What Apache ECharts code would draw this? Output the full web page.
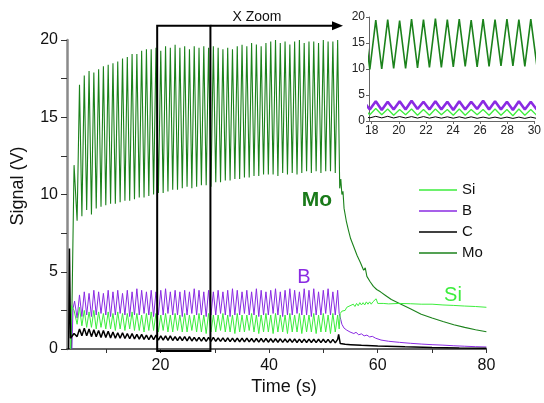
<!DOCTYPE html>
<html><head><meta charset="utf-8">
<script src="https://cdn.jsdelivr.net/npm/echarts@6/dist/echarts.min.js"></script>
<style>html,body{margin:0;padding:0;background:#fff}#c{width:544px;height:403px}</style>
</head><body><div id="c"></div>
<script>
// ---------- data ----------
const seriesNames = ['Si', 'B', 'C', 'Mo'];
const peakTime = [5.10,5.98,6.86,7.74,8.62,9.50,10.38,11.26,12.14,13.02,13.90,14.78,15.66,16.54,17.42,18.30,19.18,20.06,20.94,21.82,22.70,23.58,24.46,25.34,26.22,27.10,27.98,28.86,29.74,30.62,31.50,32.38,33.26,34.14,35.02,35.90,36.78,37.66,38.54,39.42,40.30,41.18,42.06,42.94,43.82,44.70,45.58,46.46,47.34,48.22,49.10,49.98,50.86,51.74,52.62];
const troughTime = [4.66,5.54,6.42,7.30,8.18,9.06,9.94,10.82,11.70,12.58,13.46,14.34,15.22,16.10,16.98,17.86,18.74,19.62,20.50,21.38,22.26,23.14,24.02,24.90,25.78,26.66,27.54,28.42,29.30,30.18,31.06,31.94,32.82,33.70,34.58,35.46,36.34,37.22,38.10,38.98,39.86,40.74,41.62,42.50,43.38,44.26,45.14,46.02,46.90,47.78,48.66,49.54,50.42,51.30,52.18];

const moPeak = [17.1,17.7,18.0,17.9,18.1,18.3,18.4,18.5,18.6,18.8,18.9,19.1,19.1,19.3,19.4,19.4,19.5,19.3,19.6,19.5,19.7,19.5,19.6,19.4,19.6,19.5,19.6,19.5,19.6,19.5,19.4,19.5,19.4,19.6,19.7,19.6,19.8,19.7,19.6,19.8,19.9,20.0,19.8,19.9,19.7,19.9,20.0,19.8,19.9,19.9,19.8,20.0,19.9,19.9,20.0];
const moTrough = [8.3,8.6,9.0,8.7,9.1,9.2,9.3,9.4,9.4,9.5,9.6,9.6,9.7,9.8,9.8,9.9,10.0,10.1,10.1,10.2,10.3,10.3,10.4,10.5,10.4,10.5,10.6,10.6,10.5,10.8,10.8,10.9,10.9,11.0,11.0,11.1,11.1,11.2,11.2,11.3,11.3,11.3,11.2,11.4,11.3,11.4,11.3,11.4,11.5,11.4,11.5,11.4,11.5,11.5,11.4];
const moStart = [[3.6,0],[4.1,11.9]];
const moTail = [[53.0,10.4],[53.2,11.0],[53.4,10.0],[53.6,10.2],[53.8,9.1],[54.0,9.2],[54.2,8.3],[54.4,8.4],[54.6,7.7],[54.8,7.8],[55.0,7.15],[55.3,7.25],[55.6,6.6],[55.9,6.7],[56.2,6.05],[56.5,6.15],[56.8,5.6],[57.1,5.7],[57.4,5.1],[57.7,5.25],[58.0,4.7],[58.3,4.8],[58.6,4.35],[58.9,4.45],[59.2,4.05],[59.5,4.15],[59.8,3.85],[60.5,3.7],[61.5,3.45],[62.5,3.2],[64,2.95],[66,2.6],[68,2.25],[70,2.0],[72,1.78],[74,1.57],[76,1.4],[78,1.25],[80,1.12]];

const bPeak = [3.5,3.7,3.6,3.8,3.7,3.6,3.8,3.7,3.8,3.6,3.8,3.7,3.9,3.8,3.7,3.8,3.7,3.8,3.9,3.7,3.8,3.7,3.8,3.7,3.9,3.8,3.7,3.8,3.7,3.8,3.7,3.8,3.9,3.8,3.7,3.8,3.7,3.9,3.8,3.7,3.8,3.9,3.7,3.8,3.9,3.8,3.7,3.9,3.8,3.9,3.7,3.8,3.9,3.7,3.8];
const bTrough = [2.0,2.1,2.2,2.1,2.2,2.3,2.2,2.1,2.2,2.3,2.2,2.1,2.2,2.2,2.3,2.2,2.1,2.2,2.2,2.3,2.2,2.2,2.1,2.2,2.3,2.2,2.2,2.1,2.2,2.2,2.3,2.2,2.1,2.2,2.2,2.3,2.2,2.2,2.1,2.2,2.2,2.3,2.2,2.1,2.2,2.2,2.3,2.2,2.2,2.1,2.2,2.2,2.3,2.2,2.2];
const bStart = [[3.7,0],[3.9,2.6],[4.2,3.1]];
const bTail = [[52.9,2.3],[53.2,1.9],[53.4,1.6],[53.6,1.5],[53.8,1.35],[54.0,1.4],[54.3,1.22],[54.6,1.3],[54.9,1.1],[55.2,1.18],[55.6,1.0],[56.0,1.08],[56.5,0.92],[57.0,0.98],[57.5,0.85],[58.0,0.9],[58.5,0.78],[59.0,0.82],[59.6,0.7],[60.6,0.58],[62,0.5],[64,0.43],[66,0.37],[68,0.32],[70,0.28],[72,0.25],[74,0.21],[76,0.18],[78,0.15],[80,0.13]];

const siPeak = [2.7,2.5,2.4,2.5,2.4,2.3,2.4,2.3,2.4,2.3,2.3,2.4,2.3,2.2,2.3,2.4,2.3,2.2,2.3,2.2,2.3,2.2,2.3,2.2,2.2,2.3,2.2,2.3,2.2,2.2,2.3,2.2,2.2,2.3,2.2,2.2,2.3,2.2,2.2,2.3,2.2,2.3,2.2,2.2,2.3,2.2,2.3,2.2,2.2,2.3,2.2,2.3,2.2,2.3,2.2];
const siTrough = [1.6,1.5,1.4,1.4,1.3,1.4,1.3,1.3,1.2,1.3,1.2,1.3,1.2,1.2,1.1,1.2,1.2,1.1,1.2,1.1,1.1,1.2,1.1,1.1,1.2,1.1,1.1,1.0,1.1,1.1,1.2,1.1,1.1,1.0,1.1,1.1,1.2,1.1,1.0,1.1,1.1,1.0,1.1,1.1,1.0,1.1,1.1,1.0,1.1,1.1,1.0,1.1,1.1,1.0,1.1];
const siStart = [[3.45,0],[3.6,2.8],[4.1,2.5]];
const siTail = [[52.9,1.3],[53.1,2.3],[53.4,2.45],[53.7,2.55],[54.0,2.5],[54.3,2.7],[54.6,2.6],[54.9,2.8],[55.2,2.7],[55.5,2.9],[55.8,2.75],[56.1,2.95],[56.4,2.8],[56.7,3.0],[57.0,2.85],[57.3,3.0],[57.6,2.85],[57.9,3.05],[58.2,2.9],[58.5,3.05],[58.8,2.9],[59.1,3.05],[59.4,2.95],[59.7,3.25],[60.0,2.95],[61,2.95],[62,2.92],[64,2.95],[66,2.93],[68,2.9],[70,2.9],[72,2.85],[74,2.82],[76,2.78],[78,2.75],[80,2.7]];

const cPeak = [1.3,1.35,1.3,1.25,1.2,1.2,1.15,1.1,1.05,1.05,1.0,1.0,0.95,0.95,0.9,0.9,0.9,0.85,0.85,0.85,0.8,0.8,0.8,0.8,0.75,0.75,0.75,0.75,0.75,0.72,0.72,0.72,0.7,0.7,0.7,0.7,0.68,0.68,0.68,0.68,0.66,0.66,0.66,0.65,0.65,0.65,0.64,0.64,0.64,0.63,0.63,0.63,0.62,0.62,0.62];
const cTrough = [0.8,0.85,0.85,0.8,0.8,0.75,0.75,0.72,0.7,0.7,0.68,0.66,0.65,0.64,0.62,0.6,0.6,0.58,0.58,0.56,0.55,0.55,0.54,0.53,0.52,0.52,0.51,0.5,0.5,0.5,0.49,0.48,0.48,0.47,0.47,0.46,0.46,0.45,0.45,0.45,0.44,0.44,0.44,0.43,0.43,0.43,0.42,0.42,0.42,0.42,0.41,0.41,0.41,0.4,0.4];
const cStart = [[3.1,0],[3.25,6.5],[3.45,0.7],[4.1,1.0]];
const cTail = [[52.8,0.95],[53.1,0.35],[54,0.3],[55,0.28],[57,0.24],[60,0.2],[65,0.14],[70,0.1],[75,0.07],[80,0.05]];

const xLabelValues = [20, 40, 60, 80];
const xTickValues = [10, 20, 30, 40, 50, 60, 70, 80];
const yLabelValues = [0, 5, 10, 15, 20];
const yTickValues = [0, 2.5, 5, 7.5, 10, 12.5, 15, 17.5, 20];
const insetXLabelValues = [18, 20, 22, 24, 26, 28, 30];
const insetYLabelValues = [0, 5, 10, 15, 20];
const zoomRange = [19.4, 29.2];

// ---------- build ----------
function build(start, troughs, peaks, tail) {
  const out = start.slice();
  for (let i = 0; i < peakTime.length; i++) {
    out.push([troughTime[i], troughs[i]]);
    out.push([peakTime[i], peaks[i]]);
  }
  return out.concat(tail);
}
const dataMap = {
  Mo: build(moStart, moTrough, moPeak, moTail),
  B: build(bStart, bTrough, bPeak, bTail),
  Si: build(siStart, siTrough, siPeak, siTail),
  C: build(cStart, cTrough, cPeak, cTail)
};
const colors = { Mo: '#1b821b', B: '#8a2be2', Si: '#3ded3d', C: '#000000' };
const mainWidth = { Mo: 1.1, B: 1, Si: 1, C: 1.5 };
const insetWidth = { Mo: 1.6, B: 2.6, Si: 1.3, C: 1 };
const drawOrder = ['Mo', 'B', 'Si', 'C'];
const FF = '"Liberation Sans", Arial, sans-serif';

const series = [];
drawOrder.forEach(n => {
  series.push({ name: n, type: 'line', xAxisIndex: 0, yAxisIndex: 0, data: dataMap[n],
    showSymbol: false, symbol: 'none', animation: false,
    lineStyle: { color: colors[n], width: mainWidth[n] }, itemStyle: { color: colors[n] } });
});
drawOrder.forEach(n => {
  series.push({ name: n, type: 'line', xAxisIndex: 1, yAxisIndex: 1, data: dataMap[n],
    showSymbol: false, symbol: 'none', animation: false,
    lineStyle: { color: colors[n], width: insetWidth[n] }, itemStyle: { color: colors[n] } });
});

const chart = echarts.init(document.getElementById('c'), null, { renderer: 'canvas' });
chart.setOption({
  animation: false,
  backgroundColor: '#fff',
  grid: [
    { left: 67, top: 40, width: 419.4, height: 309 },
    { left: 369, top: 17, width: 168, height: 104 }
  ],
  xAxis: [
    { type: 'value', gridIndex: 0, min: 2.8, max: 80,
      axisLine: { lineStyle: { color: '#333', width: 1.5 } },
      axisTick: { customValues: xTickValues, length: 4, lineStyle: { color: '#333' } },
      axisLabel: { customValues: xLabelValues, fontSize: 16, color: '#111', margin: 9, fontFamily: FF },
      splitLine: { show: false } },
    { type: 'value', gridIndex: 1, min: 17.8, max: 30,
      axisLine: { lineStyle: { color: '#666', width: 1 } },
      axisTick: { customValues: insetXLabelValues, length: 3, lineStyle: { color: '#666' } },
      axisLabel: { customValues: insetXLabelValues, fontSize: 12, color: '#222', margin: 4, fontFamily: FF },
      splitLine: { show: false } }
  ],
  yAxis: [
    { type: 'value', gridIndex: 0, min: 0, max: 20,
      axisLine: { show: true, lineStyle: { color: '#8a8a8a', width: 2.5 } },
      axisTick: { show: true, customValues: yTickValues, length: 6, lineStyle: { color: '#333' } },
      axisLabel: { customValues: yLabelValues, fontSize: 16, color: '#111', margin: 9, fontFamily: FF },
      splitLine: { show: false } },
    { type: 'value', gridIndex: 1, min: 0, max: 20,
      axisLine: { show: true, lineStyle: { color: '#666', width: 1 } },
      axisTick: { show: true, customValues: insetYLabelValues, length: 3, lineStyle: { color: '#666' } },
      axisLabel: { customValues: insetYLabelValues, fontSize: 12, color: '#222', margin: 4, fontFamily: FF },
      splitLine: { show: false } }
  ],
  legend: {
    data: seriesNames, orient: 'vertical', left: 419, top: 179.5, padding: 0,
    icon: 'rect', itemWidth: 38, itemHeight: 1.5, itemGap: 0, selectedMode: false,
    textStyle: { fontSize: 15, lineHeight: 21, color: '#111', fontFamily: FF }
  },
  series: series
});

const p0 = chart.convertToPixel({ xAxisIndex: 0, yAxisIndex: 0 }, [zoomRange[0], 0]);
const p1 = chart.convertToPixel({ xAxisIndex: 0, yAxisIndex: 0 }, [zoomRange[1], 0]);
const boxTop = 25.7, boxBottom = 351, arrowTip = 343;
chart.setOption({
  graphic: [
    { type: 'rect', shape: { x: p0[0], y: boxTop, width: p1[0] - p0[0], height: boxBottom - boxTop },
      style: { fill: 'none', stroke: '#000', lineWidth: 2 }, z: 100 },
    { type: 'line', shape: { x1: p1[0], y1: boxTop, x2: arrowTip - 8, y2: boxTop },
      style: { stroke: '#000', lineWidth: 2 }, z: 100 },
    { type: 'polygon', shape: { points: [[arrowTip - 11, boxTop - 4.5], [arrowTip, boxTop], [arrowTip - 11, boxTop + 4.5]] },
      style: { fill: '#000' }, z: 100 },
    { type: 'text', x: 257, y: 17, z: 100,
      style: { text: 'X Zoom', fontSize: 14, fontFamily: FF, fill: '#111', align: 'center', verticalAlign: 'middle' } },
    { type: 'text', x: 317, y: 200, z: 100,
      style: { text: 'Mo', fontSize: 21, fontWeight: 'bold', fontFamily: FF, fill: '#1a7a1a', align: 'center', verticalAlign: 'middle' } },
    { type: 'text', x: 304, y: 277, z: 100,
      style: { text: 'B', fontSize: 20, fontFamily: FF, fill: '#8a2be2', align: 'center', verticalAlign: 'middle' } },
    { type: 'text', x: 453, y: 295, z: 100,
      style: { text: 'Si', fontSize: 20, fontFamily: FF, fill: '#3ded3d', align: 'center', verticalAlign: 'middle' } },
    { type: 'text', x: 284, y: 387, z: 100,
      style: { text: 'Time (s)', fontSize: 18, fontFamily: FF, fill: '#111', align: 'center', verticalAlign: 'middle' } },
    { type: 'text', x: 18, y: 186, rotation: Math.PI / 2, z: 100,
      style: { text: 'Signal (V)', fontSize: 18, fontFamily: FF, fill: '#111', align: 'center', verticalAlign: 'middle' } }
  ]
});
</script>
</body></html>
